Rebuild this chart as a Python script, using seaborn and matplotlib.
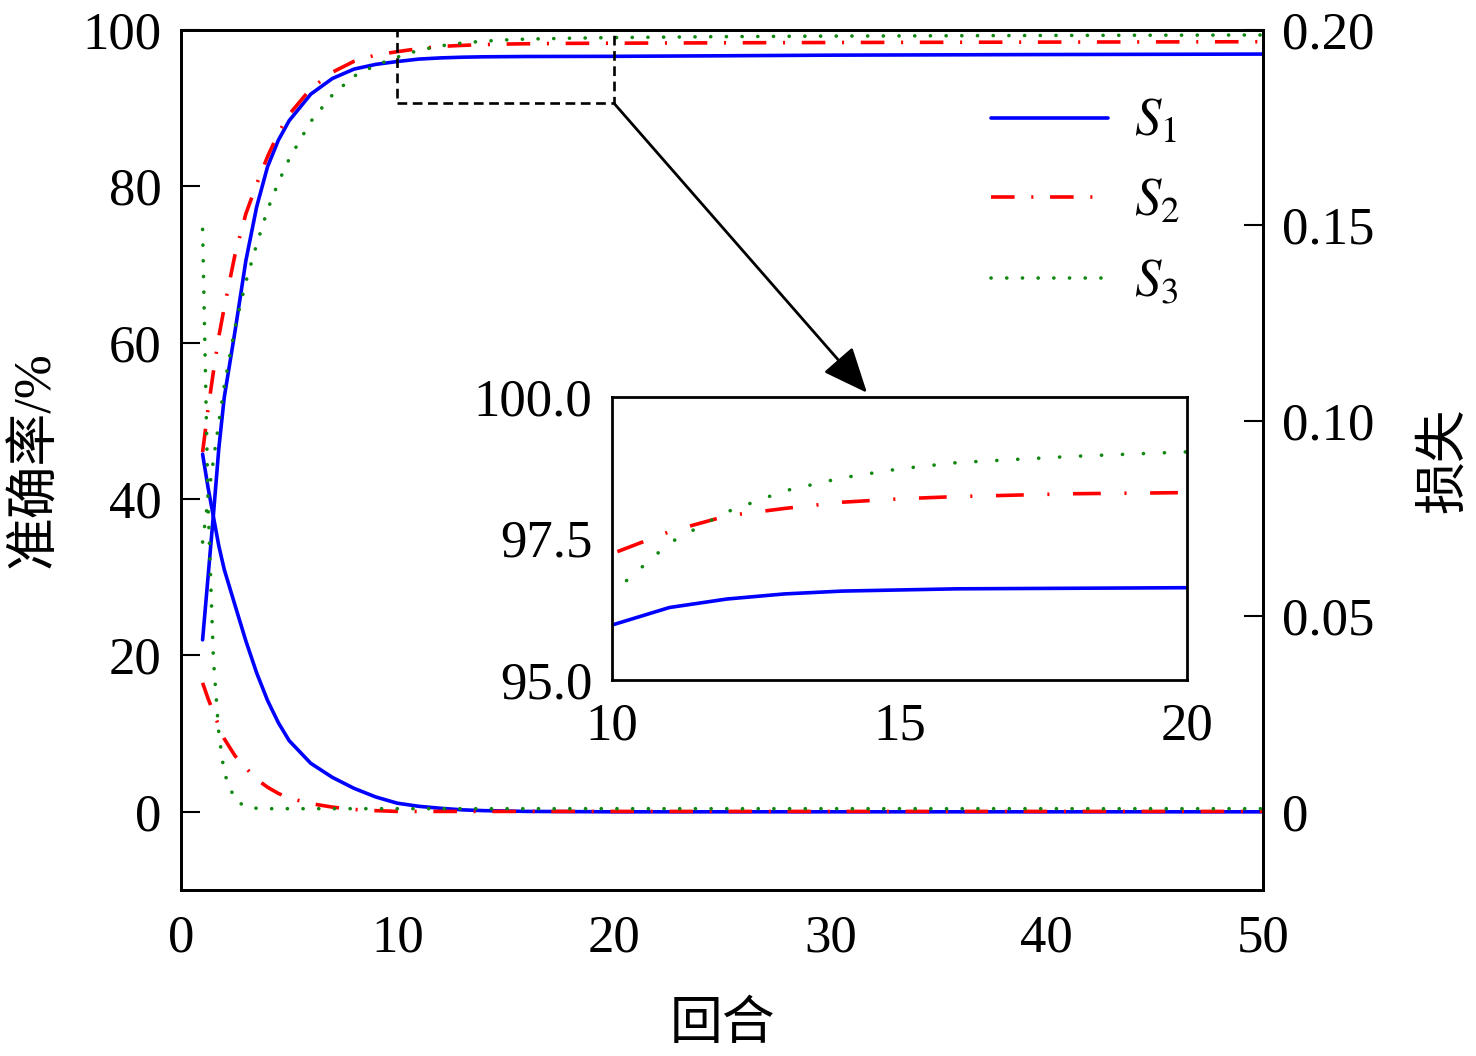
import matplotlib
matplotlib.use("Agg")
import matplotlib.pyplot as plt
import seaborn as sns
from matplotlib.patches import Rectangle

# epoch positions of the read-off points
epochs = [1, 1.25, 1.5, 1.75, 2, 2.5, 3, 3.5, 4, 4.5, 5, 6, 7, 8, 9, 10,
          11, 12, 13, 14, 15, 16, 18, 20, 25, 30, 40, 50]

# accuracy (%), left axis
acc_s1 = [22, 30, 38, 46.5, 53, 61.5, 70.5, 77.4, 82.5, 85.9, 88.4, 91.8,
          93.8, 95.0, 95.6, 95.97, 96.28, 96.43, 96.52, 96.57, 96.59, 96.61,
          96.62, 96.63, 96.7, 96.78, 96.86, 96.92]
acc_s2 = [46, 51.5, 56.3, 60.8, 64.5, 71.3, 76.5, 80.3, 83.8, 86.8, 89.2,
          92.5, 94.6, 96.0, 96.8, 97.23, 97.62, 97.9, 98.03, 98.14, 98.2,
          98.24, 98.29, 98.31, 98.36, 98.4, 98.45, 98.5]
acc_s3 = [34.5, 40, 45, 49.8, 54.5, 62, 67.8, 72.6, 77, 80.5, 83.5, 88.3,
          91.7, 94.1, 95.5, 96.53, 97.42, 97.97, 98.34, 98.57, 98.73, 98.84,
          98.95, 99.03, 99.15, 99.22, 99.3, 99.36]

# loss, right axis
loss_s1 = [0.0915, 0.083, 0.0755, 0.068, 0.062, 0.0528, 0.0437, 0.0355,
           0.0285, 0.0228, 0.0182, 0.0124, 0.0088, 0.006, 0.0038, 0.0022,
           0.0014, 0.0009, 0.0005, 0.0003, 0.0002, 0.0001, 0.00005, 0.0,
           0.0, 0.0, 0.0, 0.0]
loss_s2 = [0.033, 0.029, 0.0255, 0.022, 0.0187, 0.0143, 0.0112, 0.0083,
           0.0063, 0.0047, 0.0035, 0.0021, 0.0012, 0.0006, 0.0003, 0.0001,
           0.0001, 0.0001, 0.0001, 0.0001, 0.0001, 0.0001, 0.0001, 0.0001,
           0.0001, 0.0001, 0.0001, 0.0001]
loss_s3 = [0.149, 0.079, 0.039, 0.020, 0.0099, 0.003, 0.0013, 0.0009,
           0.0008, 0.0008, 0.0008, 0.0008, 0.0008, 0.0008, 0.0008, 0.0008,
           0.0008, 0.0008, 0.0008, 0.0008, 0.0008, 0.0008, 0.0008, 0.0008,
           0.0008, 0.0008, 0.0008, 0.0008]

series_labels = ["$S_1$", "$S_2$", "$S_3$"]
loss_ticks = [0, 0.05, 0.10, 0.15, 0.20]
loss_ticklabels = ["0", "0.05", "0.10", "0.15", "0.20"]
inset_yticks = [95.0, 97.5, 100.0]
inset_yticklabels = ["95.0", "97.5", "100.0"]

sns.set_theme(style="white", rc={
    "axes.edgecolor": "black",
    "axes.linewidth": 2.0,
    "text.color": "black",
    "axes.labelcolor": "black",
    "xtick.color": "black",
    "ytick.color": "black",
    "lines.scale_dashes": False,
    "mathtext.fontset": "stix",
})
plt.rcParams["font.family"] = ["Liberation Serif", "Noto Sans CJK SC"]

LW = 2.6
STYLES = [
    dict(color="#0000ff", linewidth=LW, linestyle="-"),
    dict(color="#ff0000", linewidth=LW, linestyle=(0, (17, 12, 1.5, 12))),
    dict(color="#118811", linewidth=LW, linestyle=(0, (0.1, 11.2)),
         dash_capstyle="round"),
]
INSET_STYLES = [
    STYLES[0],
    dict(color="#ff0000", linewidth=LW, linestyle=(0, (20, 17, 1.5, 17))),
    dict(color="#118811", linewidth=LW, linestyle=(0, (0.1, 15)),
         dash_capstyle="round"),
]


def draw_series(ax, ys, styles):
    for y, st in zip(ys, styles):
        sns.lineplot(x=epochs, y=y, ax=ax, errorbar=None, **st)


fig = plt.figure(figsize=(14.76, 10.56), dpi=100)
ax = fig.add_axes([0.1226, 0.1572, 0.7331, 0.8144])
draw_series(ax, [acc_s1, acc_s2, acc_s3], STYLES)
ax.set_xlim(0, 50)
ax.set_ylim(-10, 100)
ax.set_xticks(range(0, 51, 10))
ax.set_yticks(range(0, 101, 20))
ax.tick_params(axis="both", direction="in", length=13.5, width=1.5,
               labelsize=38, top=False, right=False)
ax.tick_params(axis="x", pad=18)
ax.tick_params(axis="y", pad=14)
ax.set_xlabel("回合", fontsize=38, labelpad=28)
ax.set_ylabel("准确率/%", fontsize=38, labelpad=16)

ax2 = ax.twinx()
draw_series(ax2, [loss_s1, loss_s2, loss_s3], STYLES)
ax2.set_ylim(-0.02, 0.20)
ax2.set_yticks(loss_ticks)
ax2.set_yticklabels(loss_ticklabels)
ax2.tick_params(axis="y", direction="in", length=13.5, width=1.5,
                labelsize=38, pad=14)
ax2.set_ylabel("损失", fontsize=38, labelpad=33)
for sp in ax2.spines.values():
    sp.set_linewidth(2.0)

# zoom box and arrow
ax.add_patch(Rectangle((10, 90.66), 10, 9.34, fill=False, edgecolor="black",
                       linewidth=1.9, linestyle=(0, (7, 4)), zorder=5,
                       clip_on=False))
ax.annotate("", xy=(31.7, 53.6), xytext=(20, 90.66),
            arrowprops=dict(arrowstyle="-|>,head_length=1.4,head_width=0.6",
                            mutation_scale=20, color="black", lw=2.0,
                            shrinkA=0, shrinkB=0))

leg = ax2.legend(ax.get_lines()[:3], series_labels, loc="upper left",
                 bbox_to_anchor=(0.749, 0.92), frameon=False, fontsize=38,
                 borderpad=0, borderaxespad=0, handlelength=2.2,
                 handletextpad=0.5, labelspacing=0.6)

# inset
axin = fig.add_axes([0.4146, 0.3561, 0.3896, 0.2680])
axin.set_facecolor("white")
draw_series(axin, [acc_s1, acc_s2, acc_s3], INSET_STYLES)
axin.set_xlim(10, 20)
axin.set_ylim(95, 100)
axin.set_xticks([10, 15, 20])
axin.set_yticks(inset_yticks)
axin.set_yticklabels(inset_yticklabels)
axin.tick_params(axis="x", direction="in", length=6, width=1.5,
                 labelsize=38, pad=16)
axin.tick_params(axis="y", direction="in", length=0, labelsize=38, pad=14)
axin.set_xlabel("")
axin.set_ylabel("")
for sp in axin.spines.values():
    sp.set_linewidth(2.0)

fig.savefig("out.png", dpi=100)
